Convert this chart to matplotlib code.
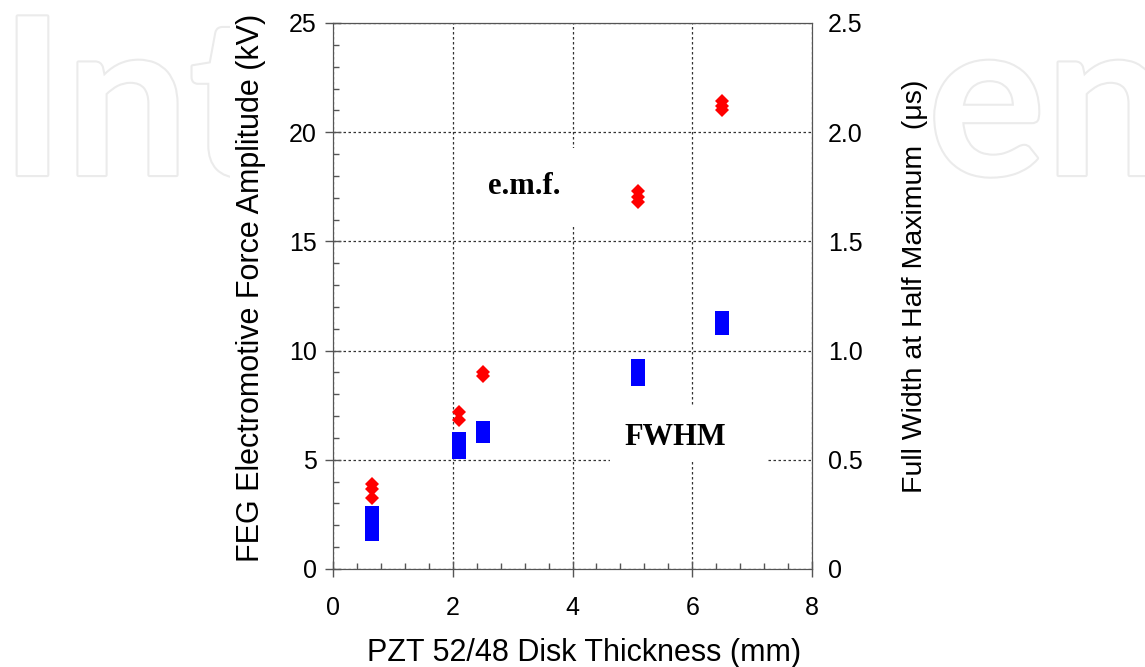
import numpy as np
import matplotlib
matplotlib.use("Agg")
import matplotlib.pyplot as plt
import matplotlib.patheffects as pe
from matplotlib.patches import Rectangle
from matplotlib.transforms import Bbox, TransformedBbox
from matplotlib.ticker import MultipleLocator

# e.m.f. points (left axis, kV)
emf_x = [0.65, 0.65, 0.65, 2.1, 2.1, 2.5, 2.5, 5.1, 5.1, 5.1, 6.5, 6.5, 6.5]
emf_kv = [3.9, 3.65, 3.25, 7.2, 6.8, 9.0, 8.85, 17.3, 17.05, 16.8, 21.43, 21.2, 21.02]

# FWHM spread (right axis, us): low and high ends of each group
fwhm_x = [0.65, 2.1, 2.5, 5.1, 6.5]
fwhm_lo = [0.128, 0.504, 0.577, 0.838, 1.071]
fwhm_hi = [0.288, 0.627, 0.678, 0.962, 1.181]

left_ticks = [0, 5, 10, 15, 20, 25]
right_ticks = [0, 0.5, 1.0, 1.5, 2.0, 2.5]
right_labels = ["0", "0.5", "1.0", "1.5", "2.0", "2.5"]
x_ticks = [0, 2, 4, 6, 8]

plt.rcParams['font.family'] = ['Liberation Sans', 'DejaVu Sans']

fig = plt.figure(figsize=(11.45, 6.67), dpi=100)

# watermark pieces left and right of the chart
wm = dict(fontsize=158, family="Lato", weight="bold", color="white",
          va="baseline", zorder=-3,
          path_effects=[pe.withStroke(linewidth=3, foreground="#ebebeb")])
t_left = fig.text(0.0, 0.7376, "Int", ha="left", **wm)
t_left.set_clip_box(TransformedBbox(Bbox([[0, 0], [230 / 1145, 1]]), fig.transFigure))
fig.text(928 / 1145, 0.7376, "en", ha="left", **wm)

ax = fig.add_axes([333 / 1145, 1 - 569 / 667, (812 - 333) / 1145, (569 - 23) / 667])
ax2 = ax.twinx()

ax.plot(emf_x, emf_kv, linestyle="none", marker="D", markersize=7.2,
        color="#ff0000", markeredgewidth=0, zorder=4)

ax2.bar(fwhm_x, np.array(fwhm_hi) - np.array(fwhm_lo), bottom=fwhm_lo, width=0.23,
        color="#0000ff", zorder=4)

ax.set_xlim(0, 8)
ax.set_ylim(0, 25)
ax2.set_ylim(0, 2.5)

ax.set_xticks(x_ticks)
ax.set_yticks(left_ticks)
ax.xaxis.set_minor_locator(MultipleLocator(0.4))
ax.yaxis.set_minor_locator(MultipleLocator(1))
ax2.set_yticks(right_ticks, labels=right_labels)

ax.tick_params(which="major", direction="inout", length=11.5, width=1, color="#555555",
               labelsize=18)
ax.tick_params(which="minor", direction="in", length=4, width=1, color="#555555")
ax.tick_params(axis="y", which="major", pad=6)
ax.tick_params(axis="x", which="major", pad=14)
ax.tick_params(top=False, right=False, which="both")
ax2.tick_params(length=0, labelsize=18, pad=11.5)

for sp in ["left", "bottom", "top", "right"]:
    ax.spines[sp].set_color("#555555")
    ax2.spines[sp].set_color("#555555")
ax.spines["top"].set_color("#222222")

ax.set_axisbelow(True)
ax.grid(True, which="major", linestyle=(0, (2, 2)), color="#333333", linewidth=0.9)

ax.set_xlabel("PZT 52/48 Disk Thickness (mm)", fontsize=22)
ax.xaxis.set_label_coords(0.524, -0.154, transform=ax.transAxes)
ax.xaxis.label.set_va("center")
ax.set_ylabel("FEG Electromotive Force Amplitude (kV)", fontsize=22)
ax.yaxis.set_label_coords(-0.171, 0.515, transform=ax.transAxes)
ax.yaxis.label.set_va("center")
ax2.set_ylabel("Full Width at Half Maximum  (\u03bcs)", fontsize=20.5)
ax2.yaxis.set_label_coords(1.216, 0.517, transform=ax2.transAxes)
ax2.yaxis.label.set_va("center")

ax.text(3.2, 17.5, "e.m.f.", family="Liberation Serif", weight="bold", fontsize=22,
        ha="center", va="center", zorder=3,
        bbox=dict(boxstyle="square,pad=0.8", facecolor="white", edgecolor="none"))

# white patch behind the FWHM label hides the grid there
ax.add_patch(Rectangle(((610 - 333) / 479, (569 - 462) / 546), 157 / 479, 55 / 546,
                       transform=ax.transAxes, facecolor="white", edgecolor="none",
                       zorder=2.5))
ax.text(5.71, 6.0, "FWHM", family="Liberation Serif", weight="bold", fontsize=22,
        ha="center", va="center", zorder=3)

fig.savefig("out.png", dpi=100)
